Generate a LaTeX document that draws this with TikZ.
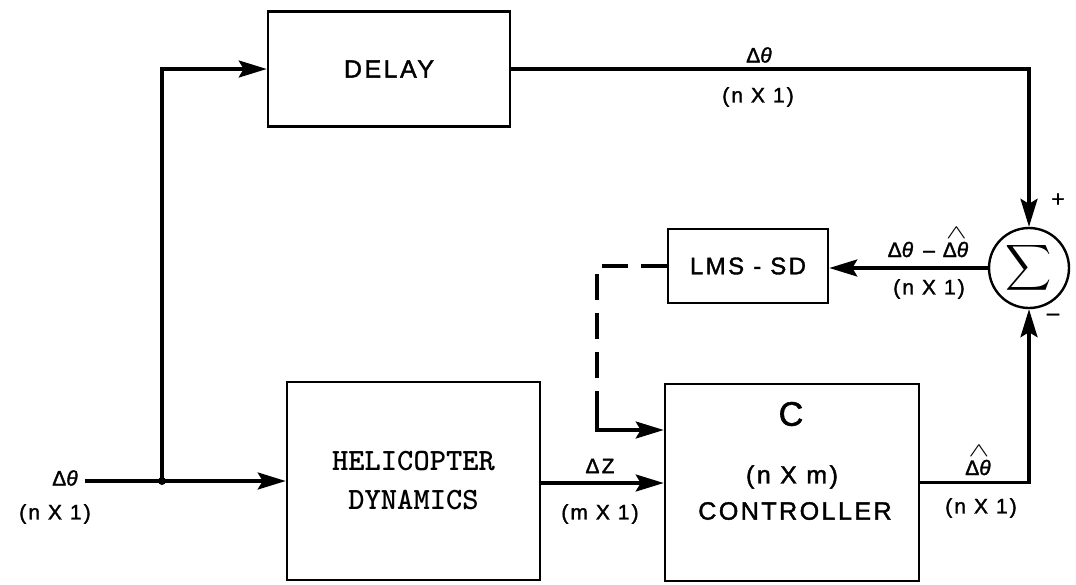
\documentclass[tikz,border=0pt]{standalone}
\usepackage{fontspec}
\usepackage{graphicx}
\usetikzlibrary{arrows.meta}
\newfontfamily\labf{Liberation Sans}[LetterSpace=10,FakeBold=1.6]
\newsavebox\hbx
\newcommand\dth{Δ\textit{θ}}
\newcommand\dthhat{\sbox\hbx{\dth}\leavevmode\rlap{\raisebox{\dimexpr\ht\hbx+3pt\relax}{\makebox[\wd\hbx]{\resizebox{0.75\wd\hbx}{11pt}{$\wedge$}}}}\usebox\hbx}
\begin{document}
\begin{tikzpicture}[x=1pt,y=-1pt,
  box/.style={draw, line width=2.6pt, inner sep=0pt},
  conn/.style={line width=3.2pt},
  arr/.style={conn, -{Stealth[length=28pt,width=17pt,inset=5pt]}},
  lab/.style={inner sep=0pt, font=\labf\fontsize{21}{24}\selectfont},
  big/.style={inner sep=0pt, font=\labf\fontsize{25}{28}\selectfont},
  sgn/.style={inner sep=0pt, font=\labf\fontsize{22}{24}\selectfont}]
\useasboundingbox (0,0) rectangle (1076,584);

% blocks
\node[box, minimum width=242pt, minimum height=115pt, font=\labf\fontsize{25}{28}\selectfont] (delay) at (389,69) {DELAY};
\node[box, minimum width=253pt, minimum height=198pt, align=center, font=\ttfamily\bfseries\addfontfeature{LetterSpace=4}\fontsize{31}{39}\selectfont] (heli) at (413.5,481) {HELICOPTER\\DYNAMICS};
\node[box, minimum width=254pt, minimum height=197pt] (ctrl) at (792,482.5) {};
\node[box, minimum width=160pt, minimum height=74pt, font=\labf\fontsize{24}{27}\selectfont] (lms) at (748,266) {LMS - SD};
\node[draw, circle, line width=2.4pt, minimum size=80pt, inner sep=0pt] (sum) at (1029,268) {\scalebox{3.2}{$\displaystyle\sum$}};

% controller texts
\node[big, font=\labf\fontsize{34}{36}\selectfont] (cC) at (791,414) {C};
\node[big] (cnm) at (792,477) {(n X m)};
\node[big] (cctl) at (795,511) {CONTROLLER};

% connectors
\coordinate (in) at (85,481);
\coordinate (j) at (162,481);
\draw[conn] (in) -- (j);
\fill (j) circle (4pt);
\draw[arr] (j) -- (j -| heli.west);
\draw[arr] (j) |- (delay.west);
\draw[arr] (delay.east) -| (sum.north);
\draw[arr] (heli.east |- 0,483) -- (ctrl.west |- 0,483);
\draw[arr] (ctrl.east) -| (sum.south);
\draw[arr] (sum.west) -- (sum.west -| lms.east);
\coordinate (d1) at (lms.west -| 597,0);
\coordinate (d2) at (597,408);
\draw[conn, dash pattern=on 26pt off 13pt] (lms.west) -- (d1) -- (d2);
\draw[arr] (d2) |- (ctrl.west |- 0,430);

% labels
\node[lab, anchor=east] (inl) at (80,478) {\dth};
\node[lab] (inn) at (55,514) {(n X 1)};
\node[lab] (dl1) at (760,55) {\dth};
\node[lab] (dl2) at (758,97) {(n X 1)};
\node[lab, anchor=base] (el1) at (929,257) {\dth{} – \dthhat};
\node[lab] (el2) at (929,289) {(n X 1)};
\node[lab] (zl1) at (600,466) {ΔZ};
\node[lab] (zl2) at (600,514) {(m X 1)};
\node[lab, anchor=base] (hl1) at (979,475) {\dthhat};
\node[lab] (hl2) at (981,508) {(n X 1)};
\node[sgn] (plus) at (1058,200) {+};
\node[sgn] (minus) at (1053,317) {–};
\end{tikzpicture}
\end{document}
